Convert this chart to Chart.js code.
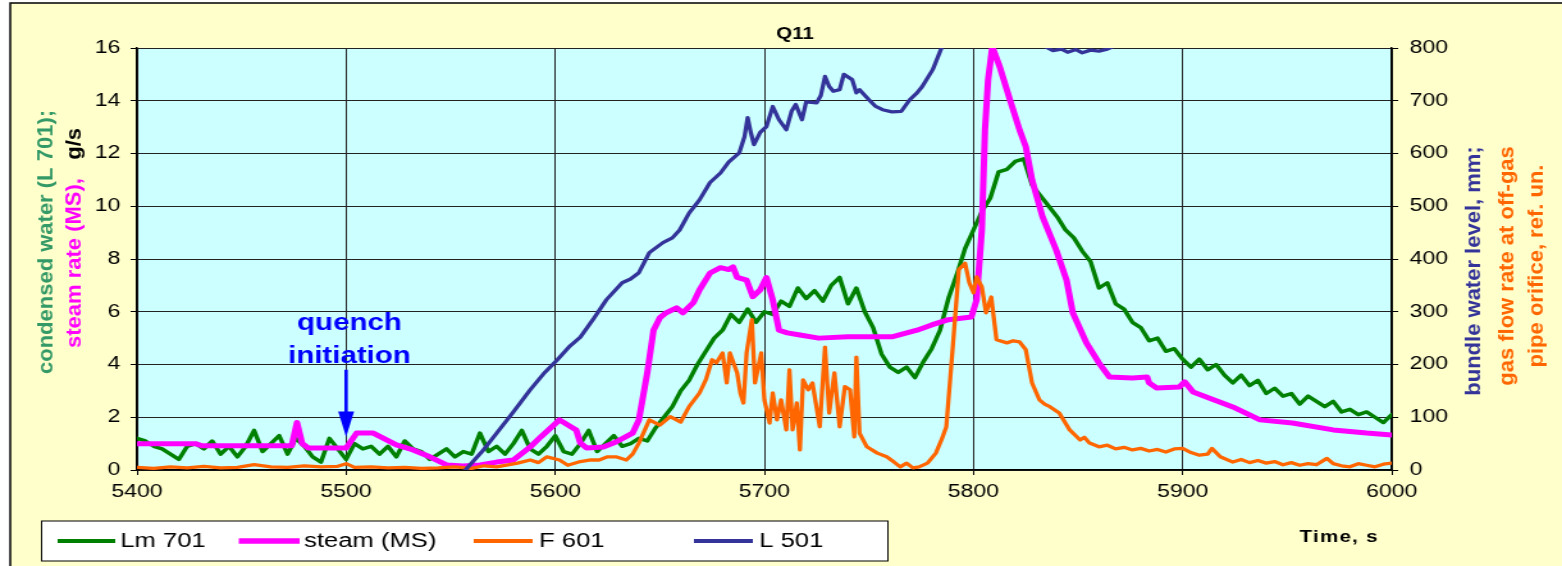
<!DOCTYPE html>
<html>
<head>
<meta charset="utf-8">
<title>Q11</title>
<script src="https://cdn.jsdelivr.net/npm/chart.js@4.4.1/dist/chart.umd.min.js"></script>
<style>
  html, body { margin: 0; padding: 0; background: #fff; overflow: hidden; }
</style>
</head>
<body>
<!-- the picture is a horizontally stretched Excel chart, so the canvas is stretched the same way -->
<canvas id="chart" width="1220" height="566" style="display:block;width:1562px;height:566px"></canvas>
<script>
// 📊 TICKS
const timeTicks = [5400, 5500, 5600, 5700, 5800, 5900, 6000];
const leftTicks = [0, 2, 4, 6, 8, 10, 12, 14, 16];
const rightTicks = [0, 100, 200, 300, 400, 500, 600, 700, 800];

// Lm 701 - condensed water, g/s (one reading every 4 s from 5400 s)
const lmStart = 5400, lmStep = 4;
const lm701 = [
  1.2, 1.1, 0.9, 0.8, 0.6, 0.4, 0.9, 1.0, 0.8, 1.1,
  0.6, 0.9, 0.5, 0.9, 1.5, 0.7, 1.0, 1.3, 0.6, 1.2,
  0.9, 0.5, 0.3, 1.2, 0.8, 0.4, 1.0, 0.8, 0.9, 0.6,
  0.9, 0.5, 1.1, 0.8, 0.7, 0.4, 0.6, 0.8, 0.5, 0.7,
  0.6, 1.4, 0.7, 0.9, 0.6, 1.0, 1.5, 0.8, 0.6, 0.9,
  1.3, 0.7, 0.6, 1.0, 1.5, 0.7, 1.0, 1.3, 0.9, 1.0,
  1.2, 1.1, 1.6, 2.0, 2.4, 3.0, 3.4, 4.0, 4.5, 5.0,
  5.3, 5.9, 5.6, 6.1, 5.6, 6.0, 5.9, 6.4, 6.2, 6.9,
  6.5, 6.8, 6.4, 7.0, 7.3, 6.3, 6.9, 6.0, 5.4, 4.4,
  3.9, 3.7, 3.9, 3.5, 4.1, 4.6, 5.3, 6.5, 7.4, 8.4,
  9.1, 9.8, 10.3, 11.3, 11.4, 11.7, 11.8, 10.8, 10.4, 10.0,
  9.6, 9.1, 8.8, 8.3, 7.9, 6.9, 7.1, 6.3, 6.1, 5.6,
  5.4, 4.9, 5.0, 4.5, 4.6, 4.2, 3.9, 4.2, 3.8, 4.0,
  3.6, 3.3, 3.6, 3.2, 3.4, 2.9, 3.1, 2.8, 2.9, 2.5,
  2.8, 2.6, 2.4, 2.6, 2.2, 2.3, 2.1, 2.2, 2.0, 1.8,
  2.1
];

// steam (MS), g/s
const steamTime = [5400, 5428, 5431, 5474, 5476.5, 5479, 5482, 5500, 5505, 5513,
  5524, 5532, 5540, 5548, 5556, 5564, 5572, 5580, 5588, 5593,
  5602, 5610, 5612, 5615, 5623, 5629, 5637, 5640, 5644, 5647,
  5650, 5653, 5658, 5661, 5666, 5669, 5674, 5679, 5683, 5685,
  5687, 5691.5, 5694.5, 5698, 5701, 5704, 5707, 5711, 5717, 5726,
  5740, 5761, 5773, 5780, 5788, 5799, 5801.5, 5804, 5805.5, 5807,
  5809, 5812.5, 5817, 5822, 5825, 5828, 5833, 5839.5, 5844.5, 5847.5,
  5854, 5860, 5865, 5876, 5883, 5884, 5887.5, 5898.5, 5901, 5905,
  5924, 5937, 5952.5, 5972, 5988, 6000];
const steamRate = [1.0, 1.0, 0.92, 0.92, 1.8, 1.0, 0.83, 0.83, 1.4, 1.4,
  0.95, 0.76, 0.5, 0.19, 0.15, 0.19, 0.3, 0.38, 0.87, 1.25,
  1.9, 1.52, 1.02, 0.83, 0.87, 1.06, 1.4, 1.9, 3.68, 5.3,
  5.77, 5.96, 6.15, 5.96, 6.34, 6.83, 7.47, 7.67, 7.6, 7.7,
  7.3, 7.2, 6.57, 6.83, 7.3, 6.45, 5.3, 5.2, 5.12, 5.0,
  5.05, 5.05, 5.3, 5.5, 5.7, 5.8, 6.45, 9.1, 12.9, 14.8,
  16.05, 15.3, 14.15, 12.9, 12.26, 11.0, 9.6, 8.35, 7.2, 5.96,
  4.82, 4.06, 3.53, 3.49, 3.53, 3.3, 3.11, 3.15, 3.34, 2.96,
  2.39, 1.9, 1.78, 1.52, 1.4, 1.33];

// F 601 - gas flow rate at off-gas pipe orifice, ref. un. (right axis)
const f601Time = [5400, 5408, 5416, 5424, 5432, 5440, 5448, 5456, 5464, 5472,
  5480, 5488, 5496, 5500, 5504, 5512, 5520, 5528, 5536, 5544,
  5552, 5560, 5566, 5572, 5578, 5582, 5588, 5592, 5596, 5602,
  5606, 5612, 5617, 5621, 5625, 5629, 5634, 5637, 5640, 5645,
  5650, 5655, 5660, 5664, 5669, 5672, 5675, 5677, 5680, 5682,
  5683.5, 5687, 5688.5, 5690, 5691.5, 5694, 5695.5, 5698.5, 5700, 5702.5,
  5704, 5706, 5708, 5710.5, 5712, 5713.5, 5715.5, 5717, 5718.5, 5721,
  5723, 5726.5, 5729, 5731, 5733.5, 5736, 5738.5, 5741, 5743, 5744,
  5745.5, 5749, 5754, 5758.5, 5762, 5765, 5768, 5771, 5774, 5778,
  5782, 5785, 5787, 5790, 5793, 5796, 5798, 5800, 5801.5, 5804,
  5806, 5808.5, 5811, 5816, 5819, 5822, 5825, 5828, 5831.5, 5834,
  5836.5, 5841, 5846, 5851, 5853, 5855.5, 5860, 5864, 5868, 5872,
  5876, 5880, 5884, 5888, 5892, 5896, 5900, 5904, 5908, 5912,
  5914, 5918, 5924, 5928, 5932, 5936, 5940, 5944, 5948, 5952,
  5956, 5960, 5964, 5969, 5972, 5976, 5980, 5984, 5988, 5992,
  5996, 6000];
const f601 = [5, 3, 6, 4, 7, 4, 5, 10, 6, 5,
  8, 6, 7, 12, 5, 6, 4, 5, 3, 4,
  6, 3, 8, 6, 10, 13, 19, 14, 25, 19,
  9, 16, 19, 19, 25, 25, 19, 30, 51, 95,
  85, 101, 91, 120, 146, 171, 209, 203, 222, 165,
  222, 184, 146, 127, 222, 285, 165, 222, 133, 89,
  146, 95, 133, 76, 190, 76, 127, 38, 171, 152,
  165, 82, 233, 108, 184, 82, 158, 152, 63, 214,
  70, 44, 32, 25, 15, 6, 13, 4, 6, 13,
  32, 60, 82, 228, 380, 392, 355, 336, 366, 347,
  298, 328, 247, 241, 245, 243, 228, 165, 133, 125,
  120, 108, 76, 57, 62, 51, 44, 47, 40, 43,
  38, 41, 36, 39, 34, 40, 41, 33, 28, 30,
  41, 25, 15, 20, 14, 18, 13, 16, 10, 14,
  9, 12, 10, 22, 12, 8, 6, 12, 9, 6,
  11, 13];

// L 501 - bundle water level, mm (right axis, goes off the top after ~5785 s)
const l501Time = [5557, 5565, 5572, 5580, 5588, 5595, 5601, 5607, 5612, 5618,
  5624.5, 5632, 5636, 5640, 5645, 5651.5, 5656, 5659.5, 5664, 5669,
  5674, 5679, 5683, 5688, 5690.5, 5692, 5693.5, 5695, 5698, 5701,
  5704, 5707, 5710.5, 5713, 5715, 5718, 5720, 5725, 5727, 5729,
  5731, 5733, 5736, 5738, 5742, 5744, 5745.5, 5750, 5753, 5756.5,
  5761, 5765.5, 5769.5, 5773, 5775.5, 5780.5, 5785, 5790, 5800, 5815,
  5828, 5835, 5838, 5842, 5845, 5849, 5852, 5856, 5860, 5864,
  5867, 5875, 5900, 5950, 6000];
const l501 = [0, 35, 70, 110, 152, 185, 209, 235, 252, 285,
  323, 355, 362, 374, 412, 431, 440, 455, 487, 512,
  545, 563, 584, 601, 632, 668, 640, 617, 640, 651,
  689, 664, 645, 680, 693, 664, 698, 696, 710, 746,
  727, 718, 721, 750, 740, 715, 721, 702, 690, 683,
  679, 680, 702, 715, 727, 759, 803, 835, 860, 850,
  820, 801, 795, 798, 792, 797, 791, 796, 794, 798,
  803, 825, 850, 870, 880];

// quench initiation marker
const quenchTime = 5500;
const arrowFrom = 3.8, arrowTo = 1.25;

const S = 1562 / 1220; // horizontal stretch of the canvas
const FONT = "'Liberation Sans', Arial, sans-serif";
Chart.defaults.font.family = FONT;

function pairs(xs, ys) {
  return xs.map((x, i) => ({ x: x, y: ys[i] }));
}

// rotated axis title, reads bottom to top; parts may have different colours
function vtext(ctx, parts, cx, cy, font) {
  ctx.save();
  ctx.font = font;
  let total = 0;
  parts.forEach(p => total += ctx.measureText(p.text).width);
  ctx.translate(cx, cy);
  ctx.rotate(-Math.PI / 2);
  ctx.scale(1, 1 / S);
  ctx.textAlign = "left";
  ctx.textBaseline = "middle";
  let x = -total / 2;
  parts.forEach(p => {
    ctx.fillStyle = p.color;
    ctx.fillText(p.text, x, 0);
    x += ctx.measureText(p.text).width;
  });
  ctx.restore();
}

const decor = {
  id: "decor",
  beforeDraw(chart) {
    const { ctx, chartArea: a, width, height } = chart;
    ctx.save();
    ctx.fillStyle = "#fff";
    ctx.fillRect(0, 0, width, height);
    ctx.fillStyle = "#FFFFCC";
    ctx.fillRect(8, 3, width - 8, height - 3);
    ctx.strokeStyle = "#000";
    ctx.lineWidth = 1.5;
    ctx.beginPath();
    ctx.moveTo(8, height);
    ctx.lineTo(8, 3);
    ctx.lineTo(width, 3);
    ctx.stroke();
    ctx.fillStyle = "#CCFFFF";
    ctx.fillRect(a.left, a.top, a.right - a.left, a.bottom - a.top);
    ctx.restore();
  },
  afterDraw(chart) {
    const ctx = chart.ctx;
    const xs = chart.scales.x, ys = chart.scales.y;
    ctx.save();

    // title
    ctx.fillStyle = "#000";
    ctx.font = "bold 16px " + FONT;
    ctx.textAlign = "center";
    ctx.textBaseline = "alphabetic";
    ctx.fillText("Q11", 621, 38.5);

    // axis titles
    const tf = "bold 22px " + FONT;
    vtext(ctx, [{ text: "condensed water (L 701);", color: "#339966" }], 36.7, 242, tf);
    vtext(ctx, [{ text: "steam rate (MS),", color: "#FF00FF" }, { text: "   g/s", color: "#000" }], 58.6, 238, tf);
    vtext(ctx, [{ text: "bundle water level, mm;", color: "#333399" }], 1151, 271, tf);
    vtext(ctx, [{ text: "gas flow rate at off-gas", color: "#FF6600" }], 1177, 266, tf);
    vtext(ctx, [{ text: "pipe orifice, ref. un.", color: "#FF6600" }], 1200.5, 266, tf);

    // x axis title
    ctx.fillStyle = "#000";
    ctx.font = "bold 16px " + FONT;
    ctx.textAlign = "left";
    ctx.textBaseline = "middle";
    ctx.letterSpacing = "1px";
    ctx.fillText("Time, s", 1015, 538);
    ctx.letterSpacing = "0px";

    // legend box
    ctx.fillStyle = "#fff";
    ctx.fillRect(32.5, 521, 661, 40);
    ctx.strokeStyle = "#000";
    ctx.lineWidth = 1;
    ctx.strokeRect(32.5, 521, 661, 40);
    const legendPos = [[45, 90, 94], [186.5, 234, 237.5], [370, 416, 421], [542, 588, 593]];
    chart.data.datasets.forEach((ds, i) => {
      const p = legendPos[i];
      ctx.strokeStyle = ds.borderColor;
      ctx.lineWidth = ds.borderWidth + 0.5;
      ctx.beginPath();
      ctx.moveTo(p[0], 541);
      ctx.lineTo(p[1], 541);
      ctx.stroke();
      ctx.fillStyle = "#000";
      ctx.font = "20px " + FONT;
      ctx.textAlign = "left";
      ctx.textBaseline = "middle";
      ctx.fillText(ds.label, p[2], 541);
    });

    // quench initiation arrow + label
    const qx = xs.getPixelForValue(quenchTime);
    const yTop = ys.getPixelForValue(arrowFrom);
    const yTip = ys.getPixelForValue(arrowTo);
    ctx.strokeStyle = "#0000FF";
    ctx.fillStyle = "#0000FF";
    ctx.lineWidth = 2.6;
    ctx.beginPath();
    ctx.moveTo(qx, yTop);
    ctx.lineTo(qx, yTip - 20);
    ctx.stroke();
    ctx.beginPath();
    ctx.moveTo(qx - 6.2, yTip - 25.5);
    ctx.lineTo(qx + 6.2, yTip - 25.5);
    ctx.lineTo(qx, yTip);
    ctx.closePath();
    ctx.fill();
    ctx.font = "bold 23px " + FONT;
    ctx.textAlign = "center";
    ctx.textBaseline = "alphabetic";
    ctx.fillText("quench", qx + 2.6, yTop - 40);
    ctx.fillText("initiation", qx + 2.6, yTop - 7);

    ctx.restore();
  }
};

const tickFont = { size: 18, family: FONT };

new Chart(document.getElementById("chart"), {
  type: "line",
  data: {
    datasets: [
      {
        label: "Lm 701",
        data: lm701.map((v, i) => ({ x: lmStart + i * lmStep, y: v })),
        borderColor: "#008000",
        borderWidth: 3.5,
        yAxisID: "y",
        order: 4
      },
      {
        label: "steam (MS)",
        data: pairs(steamTime, steamRate),
        borderColor: "#FF00FF",
        borderWidth: 5,
        yAxisID: "y",
        order: 3
      },
      {
        label: "F 601",
        data: pairs(f601Time, f601),
        borderColor: "#FF6600",
        borderWidth: 3.3,
        yAxisID: "y2",
        order: 2
      },
      {
        label: "L 501",
        data: pairs(l501Time, l501),
        borderColor: "#333399",
        borderWidth: 3.3,
        yAxisID: "y2",
        order: 1
      }
    ]
  },
  options: {
    responsive: false,
    animation: false,
    events: [],
    elements: {
      point: { radius: 0 },
      line: { tension: 0, borderJoinStyle: "round", borderCapStyle: "round", fill: false }
    },
    layout: { padding: { top: 48, bottom: 66, left: 0, right: 0 } },
    plugins: {
      legend: { display: false },
      title: { display: false },
      tooltip: { enabled: false }
    },
    scales: {
      x: {
        type: "linear",
        min: 5400,
        max: 6000,
        afterBuildTicks: s => { s.ticks = timeTicks.map(v => ({ value: v })); },
        afterFit: s => { s.height = 30; },
        ticks: { font: tickFont, color: "#000", padding: 6, maxRotation: 0, callback: v => String(v) },
        grid: { color: "#222", lineWidth: 1, tickLength: 5, tickColor: "#000" },
        border: { color: "#000", width: 1.5 }
      },
      y: {
        position: "left",
        min: 0,
        max: 16,
        afterBuildTicks: s => { s.ticks = leftTicks.map(v => ({ value: v })); },
        afterFit: s => { s.width = 107; },
        ticks: { font: tickFont, color: "#000", padding: 8, callback: v => String(v) },
        grid: { color: "#222", lineWidth: 1, tickLength: 5, tickColor: "#000" },
        border: { color: "#000", width: 1.5 }
      },
      y2: {
        position: "right",
        min: 0,
        max: 800,
        afterBuildTicks: s => { s.ticks = rightTicks.map(v => ({ value: v })); },
        afterFit: s => { s.width = 133; },
        ticks: { font: tickFont, color: "#000", padding: 9, callback: v => String(v) },
        grid: { drawOnChartArea: false, tickLength: 5, tickColor: "#000" },
        border: { color: "#000", width: 1.5 }
      }
    }
  },
  plugins: [decor]
});
</script>
</body>
</html>
